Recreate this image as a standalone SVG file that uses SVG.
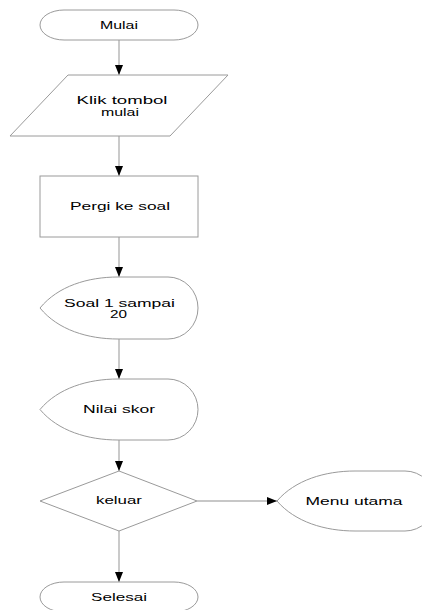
<svg xmlns="http://www.w3.org/2000/svg" width="422" height="610" viewBox="0 0 422 610">
<style>
.s{fill:#fff;stroke:#9a9a9a;stroke-width:1}
.c{fill:none;stroke:#b4b4b4;stroke-width:1.4}
.t{font-family:"Liberation Sans",Arial,sans-serif;font-size:10.5px;fill:#000;text-anchor:middle}
</style>
<defs>
<marker id="ah" markerUnits="userSpaceOnUse" markerWidth="10" markerHeight="8" viewBox="0 0 10 8" refX="10" refY="4" orient="auto">
<path d="M0,0 L10,4 L0,8 Z" fill="#000"/>
</marker>
</defs>
<rect width="422" height="610" fill="#fff"/>
<g id="connectors">
<line class="c" x1="119" y1="40" x2="119" y2="75" marker-end="url(#ah)"/>
<line class="c" x1="119" y1="136" x2="119" y2="176" marker-end="url(#ah)"/>
<line class="c" x1="119" y1="237" x2="119" y2="277" marker-end="url(#ah)"/>
<line class="c" x1="119" y1="339" x2="119" y2="379" marker-end="url(#ah)"/>
<line class="c" x1="119" y1="440" x2="119" y2="471" marker-end="url(#ah)"/>
<line class="c" x1="119" y1="531" x2="119" y2="582" marker-end="url(#ah)"/>
<line class="c" x1="197" y1="501" x2="277" y2="501" marker-end="url(#ah)"/>
</g>
<g id="mulai">
<rect class="s" x="40" y="10" width="158" height="30" rx="24" ry="15"/>
<text class="t" x="119" y="29" textLength="38" lengthAdjust="spacingAndGlyphs">Mulai</text>
</g>
<g id="klik">
<path class="s" d="M68,75 L228,75 L170,136 L10,136 Z"/>
<text class="t" x="122" y="104" textLength="91" lengthAdjust="spacingAndGlyphs">Klik tombol</text>
<text class="t" x="120" y="115.5" textLength="38" lengthAdjust="spacingAndGlyphs">mulai</text>
</g>
<g id="pergi">
<rect class="s" x="40" y="176" width="158" height="61"/>
<text class="t" x="120" y="210" textLength="100" lengthAdjust="spacingAndGlyphs">Pergi ke soal</text>
</g>
<g id="soal">
<path class="s" d="M40,308 C58,286 88,277 118,277 L168,277 A30,31 0 0 1 168,339 L118,339 C88,339 58,330 40,308 Z"/>
<text class="t" x="119.5" y="307" textLength="111" lengthAdjust="spacingAndGlyphs">Soal 1 sampai</text>
<text class="t" x="118.5" y="317.5" textLength="17" lengthAdjust="spacingAndGlyphs">20</text>
</g>
<g id="nilai">
<path class="s" d="M40,409.5 C58,388 88,379 118,379 L168,379 A30,30.5 0 0 1 168,440 L118,440 C88,440 58,431 40,409.5 Z"/>
<text class="t" x="119" y="413" textLength="72" lengthAdjust="spacingAndGlyphs">Nilai skor</text>
</g>
<g id="keluar">
<path class="s" d="M119,471 L197,501 L119,531 L40,501 Z"/>
<text class="t" x="119" y="504" textLength="46" lengthAdjust="spacingAndGlyphs">keluar</text>
</g>
<g id="menu">
<path class="s" d="M277,501 C295,480 325,471 355,471 L405,471 A30,30 0 0 1 405,531 L355,531 C325,531 295,522 277,501 Z"/>
<text class="t" x="354" y="505" textLength="97" lengthAdjust="spacingAndGlyphs">Menu utama</text>
</g>
<g id="selesai">
<rect class="s" x="40" y="582" width="158" height="30" rx="24" ry="15"/>
<text class="t" x="119" y="601" textLength="56" lengthAdjust="spacingAndGlyphs">Selesai</text>
</g>
</svg>
